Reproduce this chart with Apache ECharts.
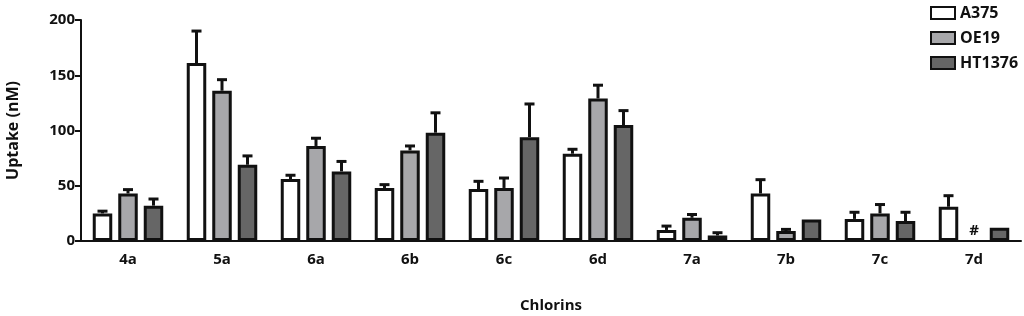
<!DOCTYPE html>
<html>
<head>
<meta charset="utf-8">
<script src="https://cdn.jsdelivr.net/npm/echarts@6/dist/echarts.min.js"></script>
<style>
  html, body { margin: 0; padding: 0; background: #fff; }
  #chart { width: 1024px; height: 316px; }
</style>
</head>
<body>
<div id="chart"></div>
<script>
// data
const categories = ['4a', '5a', '6a', '6b', '6c', '6d', '7a', '7b', '7c', '7d'];
const seriesNames = ['A375', 'OE19', 'HT1376'];
const a375 = [25, 161, 56, 48, 47, 79, 10, 43, 20, 31];
const a375Err = [2, 29, 3.5, 3, 7, 4, 3.5, 12.5, 6, 10];
const oe19 = [43, 136, 86, 82, 48, 129, 21, 9, 25, null];
const oe19Err = [3.5, 10, 7, 4, 9, 12, 3, 1.5, 8, 0];
const ht1376 = [32, 69, 63, 98, 94, 105, 5, 19.5, 18, 12];
const ht1376Err = [6, 8, 9, 18, 30, 13, 2.5, 0, 8, 0];
const oe19Notes = ['', '', '', '', '', '', '', '', '', '#'];
const yTicks = { min: 0, max: 200, interval: 50 };

const values = [a375, oe19, ht1376];
const errors = [a375Err, oe19Err, ht1376Err];
const fills = ['#ffffff', '#a7a7aa', '#666666'];
const ink = '#111111';
const font = '"Open Sans", "DejaVu Sans", sans-serif';

const BAR_W = 19.5;
const PITCH = 25.5;

const barSeries = seriesNames.map((name, k) => ({
    name,
    type: 'bar',
    data: values[k],
    barWidth: BAR_W,
    barGap: ((PITCH - BAR_W) / BAR_W) * 100 + '%',
    itemStyle: {
        color: fills[k],
        borderColor: ink,
        borderWidth: 3,
    },
    z: 2,
}));

// upper error bars (and the # note) drawn over the bars
const errSeries = seriesNames.map((name, k) => ({
    type: 'custom',
    name: name + '_err',
    data: categories.map((c, i) => [i, values[k][i], errors[k][i]]),
    encode: { x: 0, y: 1 },
    z: 3,
    silent: true,
    renderItem: (params, api) => {
        const i = api.value(0);
        const v = api.value(1);
        const e = api.value(2);
        const note = k === 1 ? oe19Notes[i] : '';
        const dx = (k - 1) * PITCH;
        if (note) {
            const p = api.coord([i, 0]);
            return {
                type: 'text',
                style: {
                    text: note,
                    x: p[0] + dx,
                    y: p[1] - 10,
                    align: 'center',
                    verticalAlign: 'middle',
                    font: 'bold 15px ' + font,
                    fill: ink,
                },
            };
        }
        if (isNaN(v) || !e) return null;
        const top = api.coord([i, v]);
        const cap = api.coord([i, v + e]);
        const x = top[0] + dx;
        return {
            type: 'group',
            children: [
                { type: 'line', shape: { x1: x, y1: top[1], x2: x, y2: cap[1] }, style: { stroke: ink, lineWidth: 3 } },
                { type: 'line', shape: { x1: x - 5, y1: cap[1], x2: x + 5, y2: cap[1] }, style: { stroke: ink, lineWidth: 3 } },
            ],
        };
    },
}));

const chart = echarts.init(document.getElementById('chart'));
chart.setOption({
    animation: false,
    textStyle: { fontFamily: font },
    grid: { left: 81, right: 3, top: 20, bottom: 75, outerBoundsMode: 'none' },
    legend: {
        data: seriesNames,
        orient: 'vertical',
        left: 925,
        top: -1,
        icon: 'rect',
        itemWidth: 24,
        itemHeight: 12,
        itemGap: 7,
        textStyle: { color: ink, fontSize: 16, fontWeight: 'bold', fontFamily: font, lineHeight: 18 },
    },
    xAxis: {
        type: 'category',
        data: categories,
        name: 'Chlorins',
        nameLocation: 'middle',
        nameGap: 57,
        nameTextStyle: { color: ink, fontSize: 15, fontWeight: 'bold' },
        axisLine: { lineStyle: { color: ink, width: 2 } },
        axisTick: { alignWithLabel: true, length: 6, lineStyle: { color: ink, width: 2 } },
        axisLabel: { color: ink, fontSize: 15, fontWeight: 'bold', margin: 11 },
    },
    yAxis: {
        type: 'value',
        min: yTicks.min,
        max: yTicks.max,
        interval: yTicks.interval,
        name: 'Uptake (nM)',
        nameLocation: 'middle',
        nameGap: 60,
        nameTextStyle: { color: ink, fontSize: 16, fontWeight: 'bold' },
        splitLine: { show: false },
        axisLine: { show: true, lineStyle: { color: ink, width: 2 } },
        axisTick: { show: true, length: 6, lineStyle: { color: ink, width: 2 } },
        axisLabel: { color: ink, fontSize: 15, fontWeight: 'bold', margin: 6 },
    },
    series: [...barSeries, ...errSeries],
});
</script>
</body>
</html>
